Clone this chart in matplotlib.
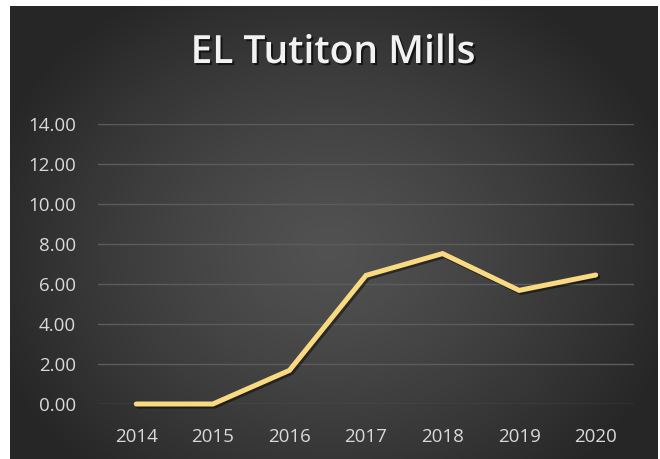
import numpy as np
import matplotlib
matplotlib.use("Agg")
import matplotlib.pyplot as plt
import matplotlib.patheffects as pe

years = ["2014", "2015", "2016", "2017", "2018", "2019", "2020"]
values = [0.0, 0.0, 1.68, 6.43, 7.52, 5.68, 6.45]
y_ticks = [0, 2, 4, 6, 8, 10, 12, 14]
title = "EL Tutiton Mills"

W, H, DPI = 660, 459, 100
fig = plt.figure(figsize=(W / DPI, H / DPI), dpi=DPI, facecolor="white")

# dark radial-gradient panel behind the chart
bg = fig.add_axes([0, 0, 1, 1], zorder=0)
bg.set_xlim(0, W)
bg.set_ylim(H, 0)
bg.axis("off")
gx, gy = np.meshgrid(np.linspace(10, 658, 400), np.linspace(6, 459, 300))
cx, cy = 330, 250
r = np.sqrt(((gx - cx) / 360) ** 2 + ((gy - cy) / 300) ** 2)
r = np.clip(r, 0, 1)
inner, outer = 0.32, 0.15
shade = inner + (outer - inner) * r ** 1.3
img = np.dstack([shade, shade, shade])
bg.imshow(img, extent=(10, 658, 459, 6), aspect="auto", interpolation="bilinear")

ax = fig.add_axes([98 / W, 55 / H, 536 / W, 280 / H], zorder=1)
ax.patch.set_alpha(0)
x = np.arange(len(years))
ax.plot(x, values, color="#F9DA80", lw=3.6, solid_capstyle="round",
        solid_joinstyle="miter", clip_on=False, zorder=3,
        path_effects=[pe.SimpleLineShadow(offset=(1.5, -1.5), shadow_color="black", alpha=0.45),
                      pe.Normal()])
ax.set_xlim(-0.5, len(years) - 0.5)
ax.set_ylim(0, 14)
ax.set_yticks(y_ticks)
ax.set_yticklabels([f"{v:.2f}" for v in y_ticks])
ax.set_xticks(x)
ax.set_xticklabels(years)
for s in ax.spines.values():
    s.set_visible(False)
ax.grid(axis="y", color="#5c5c5c", lw=1.0)
ax.set_axisbelow(True)
ax.tick_params(length=0, colors="#d9d9d9", labelsize=13.5)
ax.tick_params(axis="y", pad=16)
ax.tick_params(axis="x", pad=17)
for lab in ax.get_xticklabels() + ax.get_yticklabels():
    lab.set_family("Open Sans")

fig.text(333 / W, 1 - 53 / H, title, ha="center", va="center", color="#f2f2f2",
         fontsize=28, fontweight="semibold", family="Open Sans",
         path_effects=[pe.withSimplePatchShadow(offset=(1.5, -1.5), shadow_rgbFace="black", alpha=0.6)])

fig.savefig("out.png", dpi=DPI, facecolor="white")
